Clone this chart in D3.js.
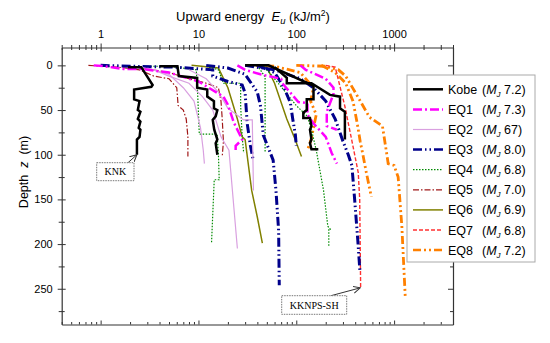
<!DOCTYPE html>
<html>
<head>
<meta charset="utf-8">
<script src="https://cdnjs.cloudflare.com/ajax/libs/d3/7.8.5/d3.min.js"></script>
<style>
  body { margin: 0; background: #fff; }
  svg { font-family: "Liberation Sans", Arial, sans-serif; }
</style>
</head>
<body>
<script>
// each profile: [upward energy (kJ/m2), depth (m)]
var names = ["Kobe", "EQ1", "EQ2", "EQ3", "EQ4", "EQ5", "EQ6", "EQ7", "EQ8"];
var magnitudes = ["7.2", "7.3", "67", "8.0", "6.8", "7.0", "6.9", "6.8", "7.2"];
var energyTicks = [1, 10, 100, 1000];
var depthTicks = [0, 50, 100, 150, 200, 250];

var kobe = [
  [[1.9,2],[2.6,2],[3.4,22],[3.3,24],[2.2,27],[2.2,38],[2.5,40],[2.4,50],[2.55,52],[2.4,60],[2.55,63],[2.45,70],[2.55,72],[2.5,80],[2.35,83],[2.35,100]],
  [[4,1],[6.1,1],[6.3,12],[9.7,14],[9.7,25],[12.3,27],[12.3,35],[14.4,40],[14.4,48],[15.6,50],[15,57],[14,61],[14.5,72],[15.6,83],[15,87],[15.6,100]],
  [[30,0],[52,0],[150,23],[150,38],[128,38],[128,50],[118,53],[118,59],[138,59],[143,68],[138,72],[143,83],[138,87],[143,94],[168,94]],
  [[60,2],[80,14],[80,20],[143,20],[221,33],[280,35],[280,48],[314,52],[314,83]]
];
var eq1 = [
  [[0.85,0],[1.1,1],[1.7,4],[2.6,4],[5,8],[10,18],[18,35],[20,44],[23,64],[28,83],[24,90],[24,95]],
  [[25,0],[30,5],[43,10],[70,15],[72,20],[105,41],[130,42],[130,55],[150,65],[200,80],[230,98],[260,110]],
  [[110,0],[125,5],[200,15],[240,25],[240,32],[205,52],[205,68],[260,72]]
];
var eq2 = [
  [[2.5,2],[3.5,5],[5,12],[8,20],[11,35],[14,50],[17,80],[20.5,95],[25,205]],
  [[3,3],[5,10],[7,25],[9,40],[10.5,70],[11.2,95],[11.5,110]],
  [[8,5],[12,15],[16,30],[20,48],[29,61],[35.5,61],[36.5,140]]
];
var eq3 = [
  [[1,0],[2,1],[6,2],[14,5],[14,12],[20,18],[28,22],[30,31],[31.5,65],[34,90],[36,104]],
  [[12,0],[20,3],[30,10],[40,30],[43,45],[46,78],[58,106],[62,140],[66,185],[67,246]],
  [[30,0],[60,5],[110,15],[150,25],[200,40],[250,60],[300,85],[340,100],[370,112],[395,150],[425,195],[447,230]],
  [[40,0],[60,8],[75,25],[87,42],[92,60],[98,78],[100,90]]
];
var eq4 = [
  [[3,1],[5,1],[9.5,5],[9.8,30],[10.2,77],[15.5,77],[16,100],[16.3,128],[14.5,128],[13.6,199]],
  [[12,1],[16,5],[18,20],[27,20],[27,45],[28,80],[29,98]],
  [[40,0],[48,13],[48,60],[48,98]],
  [[45,0],[55,10],[75,28],[100,45],[130,57],[145,75],[160,95],[190,140],[210,180],[225,184],[215,184],[215,203]]
];
var eq5 = [
  [[0.75,0],[1.5,2],[2.5,5],[3.5,12],[5,15],[6,25],[6.2,45],[7,50],[7.5,60],[7.8,80],[7.8,102]],
  [[2,1],[3,4],[5,8],[8,15],[12,20],[16,25],[17,40],[17.5,60],[18,85],[17.5,102]]
];
var eq6 = [
  [[8.5,0],[16,3],[20,25],[25,60],[28,80],[30,83],[35,140],[40,170],[45,199]],
  [[40,0],[50,2],[60,20],[80,60],[95,80],[113,102]]
];
var eq7 = [
  [[200,0],[250,2],[258,8],[314,46],[368,83],[430,120],[445,150],[450,200],[455,249]]
];
var eq8 = [
  [[100,0],[200,1],[270,5],[320,12],[400,30],[560,58],[760,68],[830,95],[870,110],[1000,112],[1100,125],[1200,180],[1300,259]],
  [[180,0],[250,8],[320,20],[380,40],[420,65],[450,85],[480,100],[520,120],[585,147]],
  [[30,0],[60,1],[110,8],[150,25],[140,40],[160,55],[150,70],[140,85],[130,95]]
];
var allSeries = [kobe, eq1, eq2, eq3, eq4, eq5, eq6, eq7, eq8];

var styles = [
  {color: "#000000", width: 2.5, dash: null},
  {color: "#ff00ff", width: 2.5, dash: "9,3,2,3"},
  {color: "#d9a0e0", width: 1.2, dash: null},
  {color: "#00008b", width: 3, dash: "9,3,1.5,3,1.5,3"},
  {color: "#008a00", width: 1.2, dash: "1.5,1.5"},
  {color: "#a01818", width: 1.2, dash: "6,2,1.5,2"},
  {color: "#808000", width: 1.5, dash: null},
  {color: "#ff3030", width: 1.4, dash: "4,2"},
  {color: "#ff8000", width: 2.8, dash: "8,3,2,3,2,3"}
];

var W = 550, H = 343;
var mLeft = 61.7, mRight = 453, mTop = 47.5, mBottom = 324.5;

var svg = d3.select("body").append("svg").attr("width", W).attr("height", H);

var x = d3.scaleLog().domain([0.4, 4000]).range([mLeft, mRight]);
var y = d3.scaleLinear().domain([-20, 290]).range([mTop, mBottom]);

svg.append("clipPath").attr("id", "plot")
  .append("rect").attr("x", mLeft).attr("y", mTop).attr("width", mRight - mLeft).attr("height", mBottom - mTop);

// profiles
var line = d3.line().x(function(d) { return x(d[0]); }).y(function(d) { return y(d[1]); });
var g = svg.append("g").attr("clip-path", "url(#plot)");
[8, 7, 6, 5, 4, 3, 2, 1, 0].forEach(function(i) {
  g.append("g").selectAll("path")
    .data(allSeries[i])
    .enter().append("path")
    .attr("d", line)
    .attr("fill", "none")
    .attr("stroke", styles[i].color)
    .attr("stroke-width", styles[i].width)
    .attr("stroke-dasharray", styles[i].dash)
    .attr("stroke-linejoin", "miter");
});

// axes
var xTicks = x.ticks();
var isDecade = function(v) { return Math.abs(Math.log10(v) - Math.round(Math.log10(v))) < 1e-6; };
var fmtX = function(v) { return energyTicks.indexOf(v) >= 0 ? String(v) : ""; };

var gTop = svg.append("g").attr("transform", "translate(0," + mTop + ")")
  .call(d3.axisTop(x).tickValues(xTicks).tickFormat(fmtX).tickSizeOuter(0));
gTop.selectAll(".tick line")
  .attr("y1", function(d) { return isDecade(d) ? 4 : 2.5; })
  .attr("y2", function(d) { return isDecade(d) ? -4 : -2.5; });
gTop.selectAll(".tick text").attr("y", -10).attr("dy", 0).style("font-size", "11px")
  .style("font-family", "Liberation Sans, Arial, sans-serif");

var gBot = svg.append("g").attr("transform", "translate(0," + mBottom + ")")
  .call(d3.axisBottom(x).tickValues(xTicks).tickFormat("").tickSizeOuter(0));
gBot.selectAll(".tick line")
  .attr("y1", 0)
  .attr("y2", function(d) { return isDecade(d) ? -4 : -2.5; });

var yMinor = d3.range(0, 290, 25);
var gLeft = svg.append("g").attr("transform", "translate(" + mLeft + ",0)")
  .call(d3.axisLeft(y).tickValues(yMinor)
    .tickFormat(function(v) { return depthTicks.indexOf(v) >= 0 ? v : ""; })
    .tickSizeOuter(0));
gLeft.selectAll(".tick line")
  .attr("x1", function(d) { return d % 50 === 0 ? -4 : -3; })
  .attr("x2", function(d) { return d % 50 === 0 ? 4 : 3; });
gLeft.selectAll(".tick text").attr("x", -9).style("font-size", "11px")
  .style("font-family", "Liberation Sans, Arial, sans-serif");

var gRight = svg.append("g").attr("transform", "translate(" + mRight + ",0)")
  .call(d3.axisRight(y).tickValues(yMinor).tickFormat("").tickSizeOuter(0));
gRight.selectAll(".tick line")
  .attr("x1", 0)
  .attr("x2", function(d) { return d % 50 === 0 ? -5 : -3; });

svg.selectAll(".domain").attr("stroke", "#333").attr("stroke-width", 1.2);
svg.selectAll(".tick line").attr("stroke", "#333").attr("stroke-width", 1);

// titles
var tt = svg.append("text").attr("x", 253).attr("y", 21)
  .attr("text-anchor", "middle").style("font-size", "13px");
tt.append("tspan").text("Upward energy\u00a0\u00a0");
tt.append("tspan").style("font-style", "italic").text("E");
tt.append("tspan").style("font-style", "italic").style("font-size", "9.5px").attr("dy", 3).text("u");
tt.append("tspan").attr("dy", -3).text("\u00a0(kJ/m");
tt.append("tspan").style("font-size", "8.5px").attr("dy", -5).text("2");
tt.append("tspan").attr("dy", 5).text(")");

var yt = svg.append("text").attr("transform", "translate(28,172) rotate(-90)")
  .attr("text-anchor", "middle").style("font-size", "12.5px");
yt.append("tspan").text("Depth\u00a0\u00a0");
yt.append("tspan").style("font-style", "italic").text("z");
yt.append("tspan").text("\u00a0\u00a0(m)");

// annotations
var defs = svg.append("defs");
defs.append("marker").attr("id", "arr").attr("viewBox", "0 0 8 8")
  .attr("refX", 7).attr("refY", 4).attr("markerWidth", 8).attr("markerHeight", 8)
  .attr("markerUnits", "userSpaceOnUse").attr("orient", "auto")
  .append("path").attr("d", "M0,0.5 L7,4 L0,7.5").attr("fill", "none").attr("stroke", "#333").attr("stroke-width", 1);

function note(label, bx, by, bw, bh, fromX, fromY, tip) {
  svg.append("line").attr("x1", fromX).attr("y1", fromY)
    .attr("x2", x(tip[0])).attr("y2", y(tip[1]))
    .attr("stroke", "#333").attr("stroke-width", 1).attr("marker-end", "url(#arr)");
  svg.append("rect").attr("x", bx).attr("y", by).attr("width", bw).attr("height", bh)
    .attr("fill", "#fff").attr("stroke", "#777").attr("stroke-width", 1).attr("stroke-dasharray", "1.5,1");
  svg.append("text").attr("x", bx + bw / 2).attr("y", by + bh / 2 + 3.5)
    .attr("text-anchor", "middle").style("font-family", "Liberation Serif, Times New Roman, serif")
    .style("font-size", "10px").text(label);
}
note("KNK", 96.7, 162.7, 37.3, 18, 128, 162.7, [2.35, 100]);
note("KKNPS-SH", 281.7, 295.7, 65, 18.6, 331, 295.7, [450, 249]);

// legend
var lg = svg.append("g");
lg.append("rect").attr("x", 407).attr("y", 75).attr("width", 128).attr("height", 187)
  .attr("fill", "#fff").attr("stroke", "#aaa").attr("stroke-width", 1);
names.forEach(function(n, i) {
  var cy = 89.3 + i * 20.1;
  lg.append("line").attr("x1", 413).attr("x2", 443).attr("y1", cy).attr("y2", cy)
    .attr("stroke", styles[i].color).attr("stroke-width", Math.min(styles[i].width, 2.5))
    .attr("stroke-dasharray", styles[i].dash);
  var t = lg.append("text").attr("x", 448).attr("y", cy + 4.5).style("font-size", "12.5px");
  t.append("tspan").text(n);
  t.append("tspan").attr("x", 482).text("(");
  t.append("tspan").style("font-style", "italic").text("M");
  t.append("tspan").style("font-style", "italic").style("font-size", "8px").attr("dy", 3).text("J");
  t.append("tspan").attr("dy", -3).text("\u00a0" + magnitudes[i] + ")");
});
</script>
</body>
</html>
